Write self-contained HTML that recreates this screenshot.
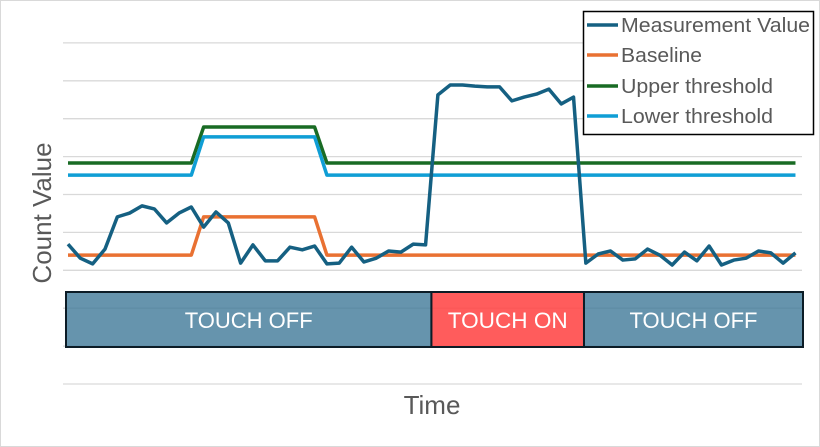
<!DOCTYPE html>
<html><head><meta charset="utf-8"><style>
html,body{margin:0;padding:0;background:#fff}
svg{display:block;font-family:"Liberation Sans",sans-serif}
</style></head><body>
<svg id="chart" width="820" height="447" viewBox="0 0 820 447">
<rect x="0.5" y="0.5" width="819" height="446" fill="#fff" stroke="#d9d9d9"/>
<g id="grid"></g>
<g id="touch"></g>
<g id="series"></g>
<text x="51" y="213" transform="rotate(-90 51 213)" text-anchor="middle" font-size="26" fill="#595959">Count Value</text>
<text x="432" y="414" text-anchor="middle" font-size="26" fill="#595959">Time</text>
<g>
<rect x="583.5" y="11.5" width="230" height="123" fill="#fff" stroke="#000" stroke-width="1.5"/>
<g><line x1="587" y1="25" x2="618" y2="25" stroke="#156082" stroke-width="3.5"/><text x="621" y="32" font-size="20" fill="#595959" textLength="189" lengthAdjust="spacingAndGlyphs">Measurement Value</text></g>
<g><line x1="587" y1="55" x2="618" y2="55" stroke="#e97132" stroke-width="3.5"/><text x="621" y="62" font-size="20" fill="#595959" textLength="81" lengthAdjust="spacingAndGlyphs">Baseline</text></g>
<g><line x1="587" y1="86" x2="618" y2="86" stroke="#196b24" stroke-width="3.5"/><text x="621" y="93" font-size="20" fill="#595959" textLength="152" lengthAdjust="spacingAndGlyphs">Upper threshold</text></g>
<g><line x1="587" y1="116" x2="618" y2="116" stroke="#0f9ed5" stroke-width="3.5"/><text x="621" y="123" font-size="20" fill="#595959" textLength="152" lengthAdjust="spacingAndGlyphs">Lower threshold</text></g>
</g>
</svg>
<script>
const measurement=[36.9,33.2,31.7,35.6,44.1,45.1,47,46.2,42.5,45.1,46.7,41.4,45.4,42.5,31.9,36.7,32.5,32.5,36.1,35.4,36.4,31.7,31.9,36.1,32.2,33.2,35.1,34.8,36.9,36.7,76.3,78.9,78.9,78.6,78.4,78.4,74.7,75.7,76.5,77.8,73.9,75.7,31.9,34.3,35.1,32.7,33,35.6,34,31.4,34.8,32.5,36.4,31.4,32.7,33.2,35.1,34.6,31.9,34.6];
const baseline=[34,34,34,34,34,34,34,34,34,34,34,44.1,44.1,44.1,44.1,44.1,44.1,44.1,44.1,44.1,44.1,34,34,34,34,34,34,34,34,34,34,34,34,34,34,34,34,34,34,34,34,34,34,34,34,34,34,34,34,34,34,34,34,34,34,34,34,34,34,34];
const upper=[58.3,58.3,58.3,58.3,58.3,58.3,58.3,58.3,58.3,58.3,58.3,67.8,67.8,67.8,67.8,67.8,67.8,67.8,67.8,67.8,67.8,58.3,58.3,58.3,58.3,58.3,58.3,58.3,58.3,58.3,58.3,58.3,58.3,58.3,58.3,58.3,58.3,58.3,58.3,58.3,58.3,58.3,58.3,58.3,58.3,58.3,58.3,58.3,58.3,58.3,58.3,58.3,58.3,58.3,58.3,58.3,58.3,58.3,58.3,58.3];
const lower=[55.1,55.1,55.1,55.1,55.1,55.1,55.1,55.1,55.1,55.1,55.1,65.2,65.2,65.2,65.2,65.2,65.2,65.2,65.2,65.2,65.2,55.1,55.1,55.1,55.1,55.1,55.1,55.1,55.1,55.1,55.1,55.1,55.1,55.1,55.1,55.1,55.1,55.1,55.1,55.1,55.1,55.1,55.1,55.1,55.1,55.1,55.1,55.1,55.1,55.1,55.1,55.1,55.1,55.1,55.1,55.1,55.1,55.1,55.1,55.1];
const gridTicks=[0,10,20,30,40,50,60,70,80,90];
const touchStates=["TOUCH OFF","TOUCH ON","TOUCH OFF"];
const touchStart=[0,29.7,42.1];
const touchEnd=[29.7,42.1,59.9];
const NS="http://www.w3.org/2000/svg";
const X=i=>68+i*12.33;
const Y=v=>384-v*3.79;
function mk(t,a,p){const e=document.createElementNS(NS,t);for(const k in a)e.setAttribute(k,a[k]);p.appendChild(e);return e;}
const grid=document.getElementById('grid');
gridTicks.forEach(t=>{
const l=mk('line',{x1:63,x2:802,y1:Y(t),y2:Y(t),stroke:'#d9d9d9','stroke-width':1.3},grid);


});
const touch=document.getElementById('touch');
const bx=i=>66+i*(737/59.9);
touchStates.forEach((s,i)=>{
const r=mk('rect',{x:bx(touchStart[i]),y:292,width:bx(touchEnd[i])-bx(touchStart[i]),height:55,fill:s==="TOUCH ON"?'rgba(255,70,70,0.88)':'rgba(64,121,153,0.8)',stroke:'#0c1c26','stroke-width':2},touch);


const t=mk('text',{x:(bx(touchStart[i])+bx(touchEnd[i]))/2,y:328,'text-anchor':'middle','font-size':22,fill:'#fff',textLength:s==="TOUCH ON"?120:128,lengthAdjust:'spacingAndGlyphs'},touch);
t.textContent=s;


});
const series=document.getElementById('series');
[[upper,'#196b24','upper-threshold-line'],[lower,'#0f9ed5','lower-threshold-line'],[baseline,'#e97132','baseline-line'],[measurement,'#156082','measurement-line']].forEach(([d,c,n])=>{
const p=mk('polyline',{points:d.map((v,i)=>X(i)+','+Y(v)).join(' '),fill:'none',stroke:c,'stroke-width':3.5,'stroke-linejoin':'round'},series);


});
</script>
</body></html>
